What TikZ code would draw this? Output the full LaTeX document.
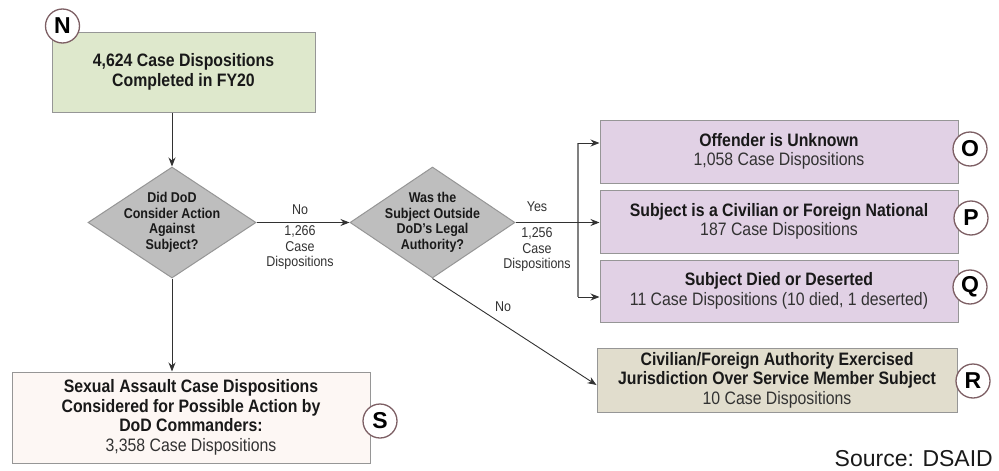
\documentclass[tikz,border=0pt]{standalone}
\usepackage{fontspec}
\setmainfont[FakeStretch=0.88]{Liberation Sans}
\newfontfamily\plainsans{Liberation Sans}
\usetikzlibrary{shapes.geometric,arrows.meta}
\definecolor{greenfill}{RGB}{222,232,204}
\definecolor{purplefill}{RGB}{225,209,229}
\definecolor{beigefill}{RGB}{225,221,205}
\definecolor{pinkfill}{RGB}{253,247,244}
\definecolor{dmdfill}{RGB}{190,190,190}
\definecolor{boxline}{RGB}{150,150,150}
\definecolor{circline}{RGB}{125,95,100}
\definecolor{txtdark}{RGB}{25,25,25}
\definecolor{txtreg}{RGB}{50,50,50}
\tikzset{
  box/.style={draw=boxline, line width=1pt, minimum width=#1, inner sep=0pt, align=center,
    text=txtdark, font=\fontsize{18}{19.5}\selectfont},
  dmd/.style={draw=boxline, fill=dmdfill, line width=1pt, diamond, inner sep=0pt, aspect=1.5},
  dtext/.style={align=center, text=txtdark, font=\bfseries\fontsize{14.2}{15.5}\selectfont},
  elabel/.style={align=center, text=txtreg, font=\fontsize{14.2}{15.5}\selectfont},
  badge/.style={circle, draw=circline, fill=white, line width=1.3pt, minimum size=34pt,
    inner sep=0pt, font=\plainsans\bfseries\fontsize{23}{23}\selectfont, text=black},
  arr/.style={draw=txtreg, line width=0.9pt, -{Stealth[length=9pt,width=7pt]}},
  brk/.style={draw=gray, line width=1.2pt},
}
\begin{document}
\begin{tikzpicture}[x=1pt,y=-1pt]
\useasboundingbox (0,0) rectangle (999,471);
% boxes
\node[box=263pt, minimum height=80pt, fill=greenfill] (N) at (183.5,72)
  {\bfseries 4,624 Case Dispositions\\\bfseries Completed in FY20};
\node[box=358pt, minimum height=63pt, fill=purplefill] (O) at (779,151.5)
  {\bfseries Offender is Unknown\\\color{txtreg}1,058 Case Dispositions};
\node[box=358pt, minimum height=63pt, fill=purplefill] (P) at (779,221.5)
  {\bfseries Subject is a Civilian or Foreign National\\\color{txtreg}187 Case Dispositions};
\node[box=358pt, minimum height=62pt, fill=purplefill] (Q) at (779,291)
  {\bfseries Subject Died or Deserted\\\color{txtreg}11 Case Dispositions (10 died, 1 deserted)};
\node[box=360pt, minimum height=64pt, fill=beigefill] (R) at (777,380)
  {\bfseries Civilian/Foreign Authority Exercised\\\bfseries Jurisdiction Over Service Member Subject\\\color{txtreg}10 Case Dispositions};
\node[box=358pt, minimum height=91pt, fill=pinkfill] (S) at (191,417.5)
  {\bfseries Sexual Assault Case Dispositions\\\bfseries Considered for Possible Action by\\\bfseries DoD Commanders:\\\color{txtreg}3,358 Case Dispositions};
% diamonds
\node[dmd, minimum width=168pt, minimum height=111pt] (d1) at (172,222.5) {};
\node[dtext] (d1t) at (d1.center) {Did DoD\\Consider Action\\Against\\Subject?};
\node[dmd, minimum width=165pt, minimum height=111pt] (d2) at (432.5,222.5) {};
\node[dtext] (d2t) at (d2.center) {Was the\\Subject Outside\\DoD’s Legal\\Authority?};
% connectors
\draw[arr] (N.south -| d1.north) -- (d1.north);
\draw[arr] (d1.east) -- (d2.west);
\draw[arr] (d1.south) -- (d1.south |- S.north);
\coordinate (bO) at (578,143);
\coordinate (bQ) at (578,297);
\draw[brk] (bO) -- (bQ);
\draw[arr] (d2.east) -- (d2.east -| P.west);
\draw[arr] (bO) -- (bO -| O.west);
\draw[arr] (bQ) -- (bQ -| Q.west);
\draw[arr] (d2.south) -- ([yshift=-5pt]R.west);
% edge labels
\node[elabel] (l1) at (300,210) {No};
\node[elabel] (l2) at (300,248) {1,266\\Case\\Dispositions};
\node[elabel] (l3) at (537,207) {Yes};
\node[elabel] (l4) at (537,250) {1,256\\Case\\Dispositions};
\node[elabel] (l5) at (503,307) {No};
% badges
\node[badge] (cN) at (62.5,26) {N};
\node[badge] (cO) at (970,149) {O};
\node[badge] (cP) at (971,218) {P};
\node[badge] (cQ) at (970,287) {Q};
\node[badge] (cR) at (973,381) {R};
\node[badge] (cS) at (380,421) {S};
% source
\node[anchor=east, text=txtdark, font=\plainsans\fontsize{23}{23}\selectfont, inner sep=0pt] (src) at (993,459) {Source: DSAID};
\end{tikzpicture}
\end{document}
